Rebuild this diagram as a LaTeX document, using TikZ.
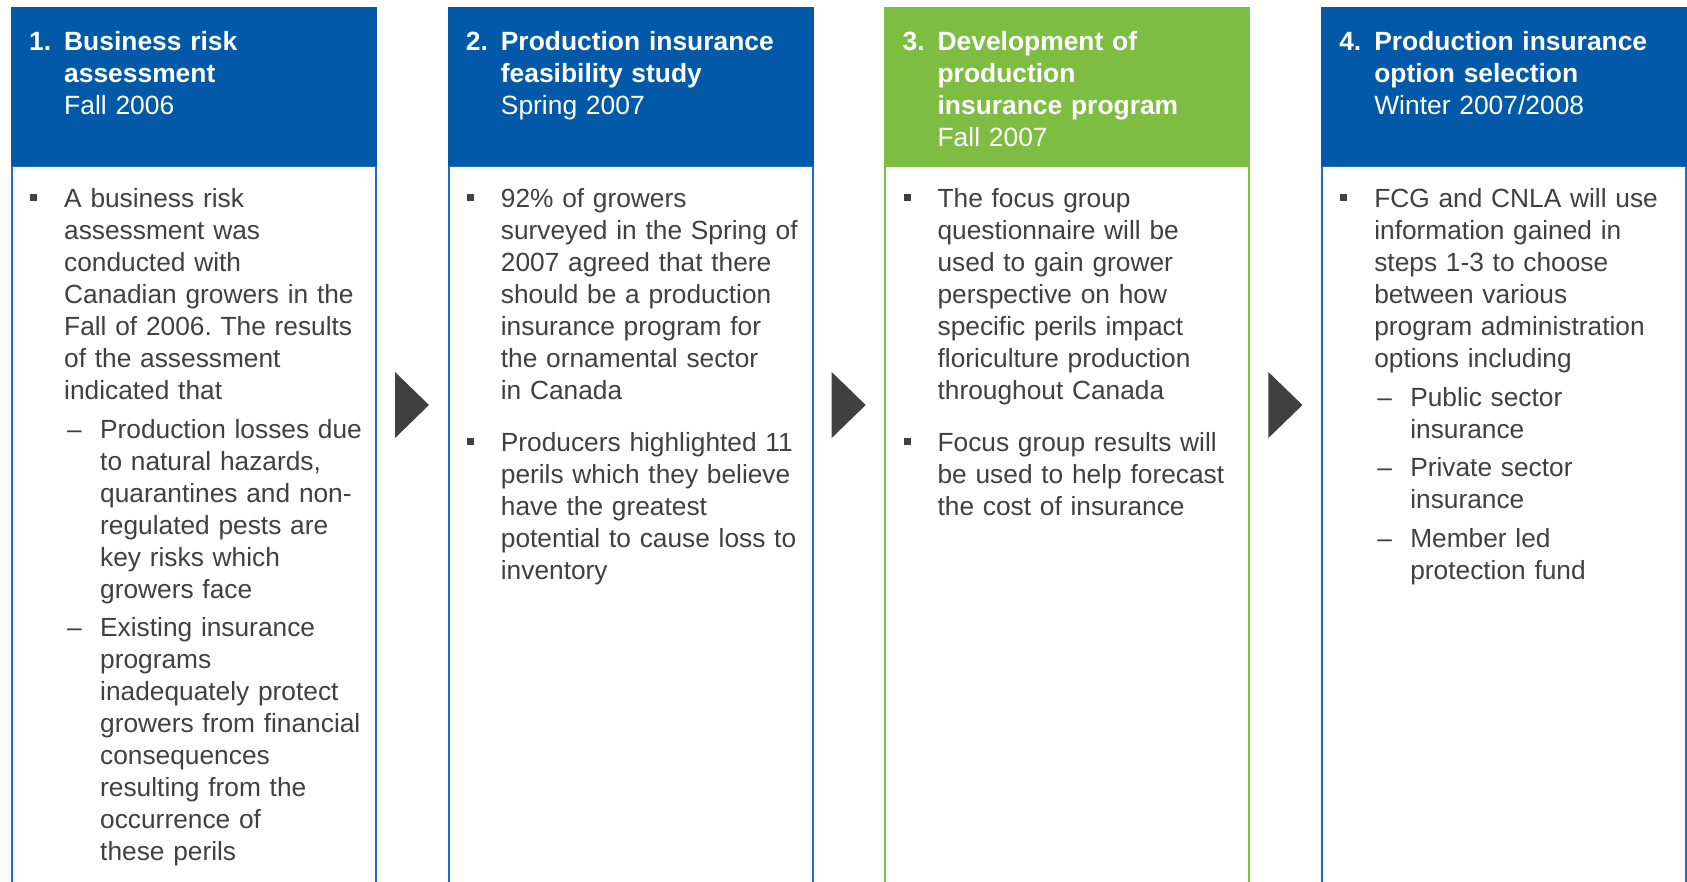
\documentclass[tikz,border=0pt]{standalone}
\usepackage{fontspec}
\setmainfont{Liberation Sans}
\usetikzlibrary{positioning}
\definecolor{hdblue}{RGB}{2,89,167}
\definecolor{hdgreen}{RGB}{125,190,66}
\definecolor{lnblue}{RGB}{30,110,192}
\definecolor{txgrey}{RGB}{64,64,64}
\frenchspacing
\newcommand{\hnum}[1]{\leavevmode\llap{\makebox[35pt][l]{#1}}}
\newcommand{\blt}{\leavevmode\llap{\makebox[34pt][l]{\rule[6pt]{7pt}{7pt}}}}
\newcommand{\dsh}{\leavevmode\llap{\makebox[33pt][l]{–}}}
\begin{document}
\begin{tikzpicture}[x=1pt, y=-1pt,
	head/.style={anchor=north west, minimum width=366pt, minimum height=159pt, inner sep=0pt, outer sep=0pt},
	body/.style={anchor=north west, minimum width=364pt, minimum height=760pt, inner sep=0pt, outer sep=0pt, line width=2pt},
	ttl/.style={anchor=base west, text width=310pt, align=left, inner sep=0pt, text=white, font=\fontsize{26.4}{32}\selectfont\bfseries},
	txt/.style={anchor=base west, text width=310pt, align=left, inner sep=0pt, text=txgrey, font=\fontsize{26.3}{32}\selectfont}]
	\useasboundingbox (0,0) rectangle (1687,881);
	\clip (0,0) rectangle (1687,881);
	\fill[white] (0,0) rectangle (1687,881);
	% Columns
	\foreach \i/\fc/\lc in {1/hdblue/lnblue, 2/hdblue/lnblue, 3/hdgreen/hdgreen, 4/hdblue/lnblue} {
		\node[body, draw=\lc] (b\i) at ({12+(\i-1)*436.7}, 166) {};
		\node[head, fill=\fc] (h\i) at ({11+(\i-1)*436.7}, 7) {};
	}
	% Arrows
	\foreach \i in {1, ..., 3} {
		\fill[txgrey] ({395+(\i-1)*436.7}, 372) -- ++(34,33) -- ++(-34,33) -- cycle;
	}
	% Step 1
	\node[ttl] (t1) at (64,50.5) {\hnum{1.}Business risk\\assessment\\\mdseries Fall 2006};
	\node[txt] (p1a) at (64,207) {\blt A business risk\\assessment was\\conducted with\\Canadian growers in the\\Fall of 2006. The results\\of the assessment\\indicated that};
	\node[txt] (p1b) at (100,438) {\dsh Production losses due\\to natural hazards,\\quarantines and non-\\regulated pests are\\key risks which\\growers face};
	\node[txt] (p1c) at (100,636) {\dsh Existing insurance\\programs\\inadequately protect\\growers from financial\\consequences\\resulting from the\\occurrence of\\these perils};
	% Step 2
	\node[ttl] (t2) at (500.7,50.5) {\hnum{2.}Production insurance\\feasibility study\\\mdseries Spring 2007};
	\node[txt] (p2a) at (500.7,207) {\blt 92\% of growers\\surveyed in the Spring of\\2007 agreed that there\\should be a production\\insurance program for\\the ornamental sector\\in Canada};
	\node[txt] (p2b) at (500.7,451) {\blt Producers highlighted 11\\perils which they believe\\have the greatest\\potential to cause loss to\\inventory};
	% Step 3
	\node[ttl] (t3) at (937.4,50.5) {\hnum{3.}Development of\\production\\insurance program\\\mdseries Fall 2007};
	\node[txt] (p3a) at (937.4,207) {\blt The focus group\\questionnaire will be\\used to gain grower\\perspective on how\\specific perils impact\\floriculture production\\throughout Canada};
	\node[txt] (p3b) at (937.4,451) {\blt Focus group results will\\be used to help forecast\\the cost of insurance};
	% Step 4
	\node[ttl] (t4) at (1374.1,50.5) {\hnum{4.}Production insurance\\option selection\\\mdseries Winter 2007/2008};
	\node[txt] (p4a) at (1374.1,207) {\blt FCG and CNLA will use\\information gained in\\steps 1-3 to choose\\between various\\program administration\\options including};
	\node[txt] (p4b) at (1410.1,406) {\dsh Public sector\\insurance};
	\node[txt] (p4c) at (1410.1,476.5) {\dsh Private sector\\insurance};
	\node[txt] (p4d) at (1410.1,547) {\dsh Member led\\protection fund};
\end{tikzpicture}
\end{document}
